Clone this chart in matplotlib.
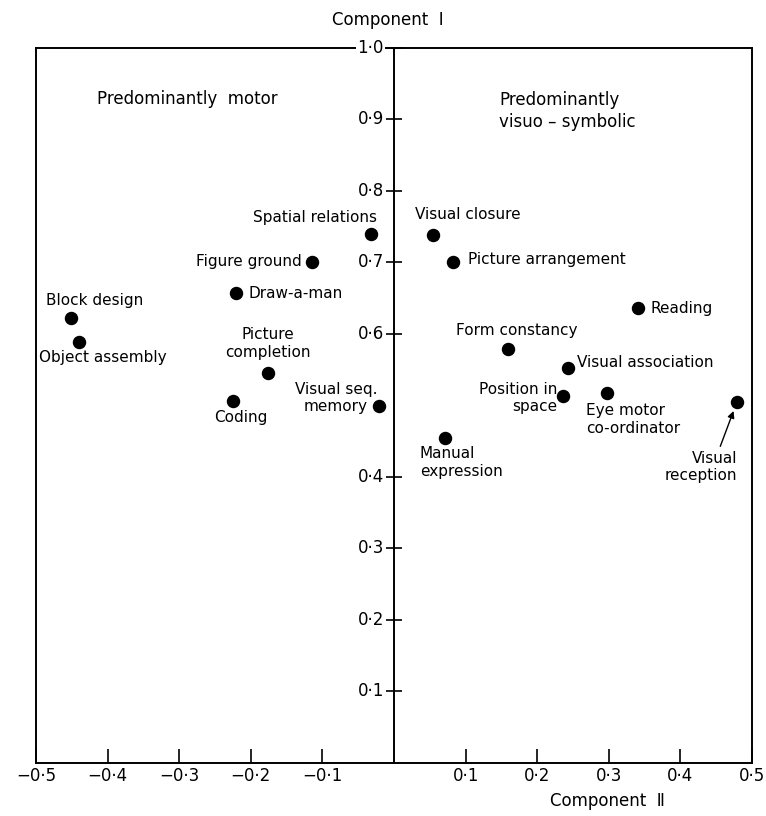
import matplotlib
matplotlib.use("Agg")
from matplotlib import pyplot as plt

# Component loadings for each subtest
tests = ["Block design", "Object assembly", "Coding", "Picture\ncompletion",
         "Draw-a-man", "Figure ground", "Spatial relations", "Visual seq.\nmemory",
         "Visual closure", "Picture arrangement", "Reading", "Form constancy",
         "Visual association", "Position in\nspace", "Eye motor\nco-ordinator",
         "Visual\nreception", "Manual\nexpression"]
comp2 = [-0.451, -0.440, -0.225, -0.176, -0.221, -0.115, -0.032, -0.021,
         0.054, 0.082, 0.341, 0.159, 0.243, 0.236, 0.297, 0.479, 0.071]
comp1 = [0.622, 0.589, 0.506, 0.545, 0.657, 0.701, 0.740, 0.499,
         0.738, 0.701, 0.636, 0.579, 0.552, 0.513, 0.518, 0.505, 0.455]

# label offsets (points) and alignment
offsets = [(-18, 13, "left"), (-29, -11, "left"), (6, -11.5, "center"), (0, 21.5, "center"),
           (9, 0, "left"), (-7, 0, "right"), (4, 11.5, "right"), (-31, 6, "center"),
           (-13, 15, "left"), (11, 1.5, "left"), (9, 0, "left"), (-37, 13.5, "left"),
           (6.5, 4, "left"), (-4, -1.5, "right"), (-15, -19.5, "left"),
           (0, -47, "right"), (-18, -18, "left")]

xticks = [-0.5, -0.4, -0.3, -0.2, -0.1, 0.1, 0.2, 0.3, 0.4, 0.5]
yticks = [0.1, 0.2, 0.3, 0.4, 0.6, 0.7, 0.8, 0.9, 1.0]

def fmt(v):
    s = "{:.1f}".format(abs(v)).replace(".", "\u00b7")
    return ("\u2212" + s) if v < 0 else s

fig = plt.figure(figsize=(7.66, 8.16), dpi=100)
ax = fig.add_axes([0.047, 0.065, 0.9347, 0.8762])
ax.set_xlim(-0.5, 0.5)
ax.set_ylim(0, 1.0)
for s in ax.spines.values():
    s.set_linewidth(1.4)

fs = 11
tfs = 12

# x ticks point inward from the bottom edge
ax.set_xticks(xticks)
ax.set_xticklabels([fmt(v) for v in xticks], fontsize=tfs)
ax.tick_params(axis="x", direction="in", length=10, width=1.2, pad=3)
ax.set_yticks([])

# central vertical axis with crossing ticks
ax.axvline(0, color="black", lw=1.4)
ax.plot([0] * len(yticks), yticks, linestyle="none", marker="_",
        markersize=11, markeredgewidth=1.2, color="black", clip_on=False)
for v in yticks:
    t = ax.text(-0.014, v, fmt(v), ha="right", va="center", fontsize=tfs)
    if v == 1.0:
        t.set_bbox(dict(facecolor="white", edgecolor="none", pad=1))
        t.set_zorder(5)

ax.scatter(comp2, comp1, s=75, color="black", zorder=4)

for name, x, y, (dx, dy, ha) in zip(tests, comp2, comp1, offsets):
    if name.startswith("Visual\nrec"):
        # arrow pointing up to the dot
        ax.annotate("", xy=(x, y), xytext=(-12, -32), textcoords="offset points",
                    arrowprops=dict(arrowstyle="-|>", color="black", lw=1.0,
                                    shrinkA=0, shrinkB=7, mutation_scale=10))
    ax.annotate(name, xy=(x, y), xytext=(dx, dy), textcoords="offset points",
                ha=ha, va="center", fontsize=fs, linespacing=1.2,
                multialignment=ha)

ax.text(-0.415, 0.929, "Predominantly  motor", fontsize=tfs, va="center")
ax.text(0.147, 0.912, "Predominantly\nvisuo \u2013 symbolic", fontsize=tfs, va="center",
        linespacing=1.3)

fig.text(388 / 766, 1 - 20 / 816, "Component  \u2160", ha="center", va="center", fontsize=tfs)
fig.text(607 / 766, 1 - 801 / 816, "Component  \u2161", ha="center", va="center", fontsize=tfs)

fig.savefig("out.png", dpi=100)
